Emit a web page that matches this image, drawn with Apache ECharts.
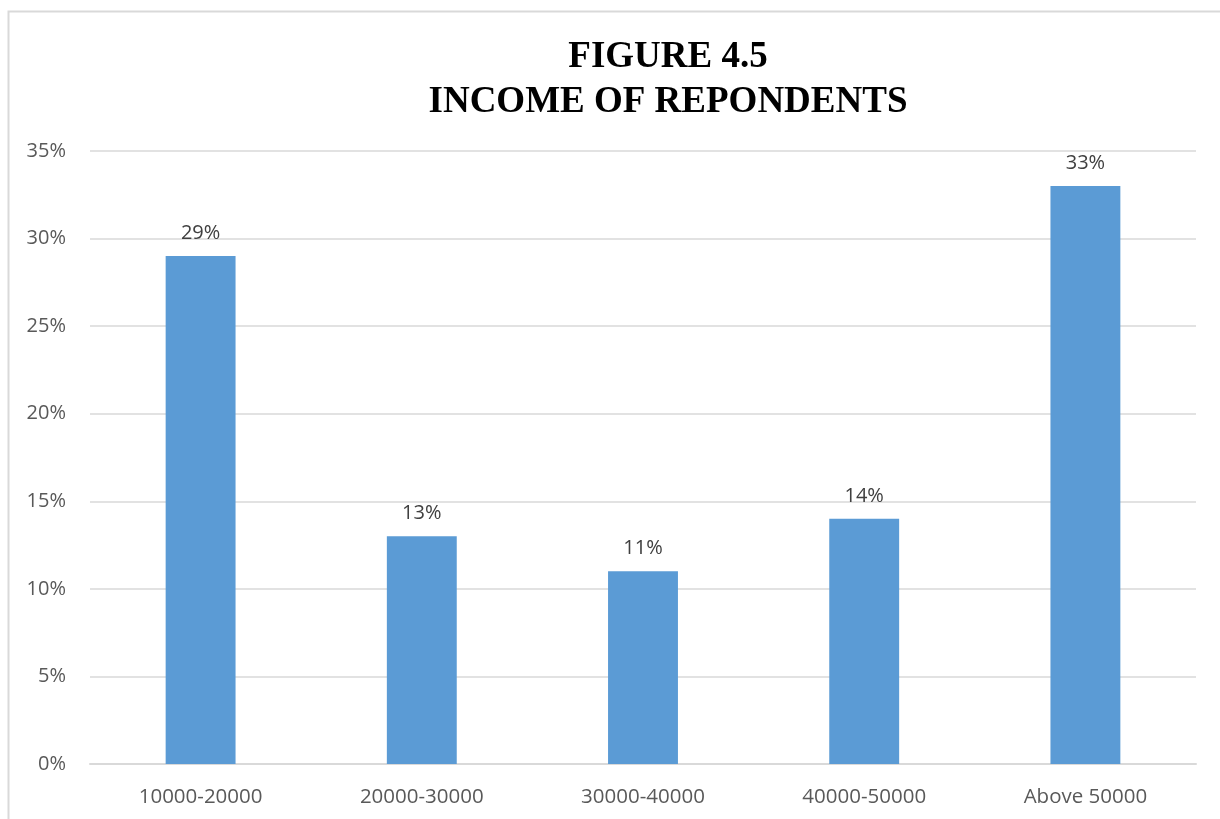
<!DOCTYPE html>
<html>
<head>
<meta charset="utf-8">
<script src="https://cdn.jsdelivr.net/npm/echarts@6/dist/echarts.min.js"></script>
<style>
  html, body { margin: 0; padding: 0; background: #fff; }
  #main { width: 1220px; height: 819px; }
</style>
</head>
<body>
<div id="main"></div>
<script>
// 数据
var categories = ['10000-20000', '20000-30000', '30000-40000', '40000-50000', 'Above 50000'];
var incomeShare = [29, 13, 11, 14, 33];
var yTicks = [0, 5, 10, 15, 20, 25, 30, 35];

var myChart = echarts.init(document.getElementById('main'));

var option = {
    backgroundColor: '#fff',
    title: {
        text: 'FIGURE 4.5\nINCOME OF REPONDENTS',
        left: 663,
        textAlign: 'center',
        top: 30,
        textStyle: {
            fontFamily: 'Liberation Serif',
            fontWeight: 'bold',
            fontSize: 37,
            lineHeight: 45,
            color: '#000'
        }
    },
    // 外框（只有上边和左边）
    graphic: [
        {
            type: 'polyline',
            shape: { points: [[8.5, 819], [8.5, 11.5], [1220, 11.5]] },
            style: { stroke: '#d9d9d9', lineWidth: 2, fill: null },
            silent: true
        }
    ],
    grid: {
        left: 90,
        right: 24,
        top: 151,
        bottom: 55
    },
    xAxis: {
        type: 'category',
        data: categories,
        axisLine: { lineStyle: { color: '#d9d9d9', width: 2 } },
        axisTick: { show: false },
        axisLabel: {
            color: '#595959',
            fontFamily: 'Open Sans',
            fontSize: 20.5,
            margin: 23
        }
    },
    yAxis: {
        type: 'value',
        min: 0,
        max: 35,
        interval: 5,
        axisLine: { show: false },
        axisTick: { show: false },
        axisLabel: {
            color: '#595959',
            fontFamily: 'Open Sans',
            fontSize: 20,
            margin: 24,
            formatter: function (v) {
                return yTicks.indexOf(v) >= 0 ? v + '%' : '';
            }
        },
        splitLine: { lineStyle: { color: '#d9d9d9', width: 1.5 } }
    },
    series: [
        {
            type: 'bar',
            data: incomeShare,
            barWidth: '31.6%',
            itemStyle: { color: '#5b9bd5' },
            label: {
                show: true,
                position: 'top',
                distance: 13,
                color: '#404040',
                fontFamily: 'Open Sans',
                fontSize: 20,
                formatter: '{c}%'
            }
        }
    ]
};

myChart.setOption(option);
</script>
</body>
</html>
